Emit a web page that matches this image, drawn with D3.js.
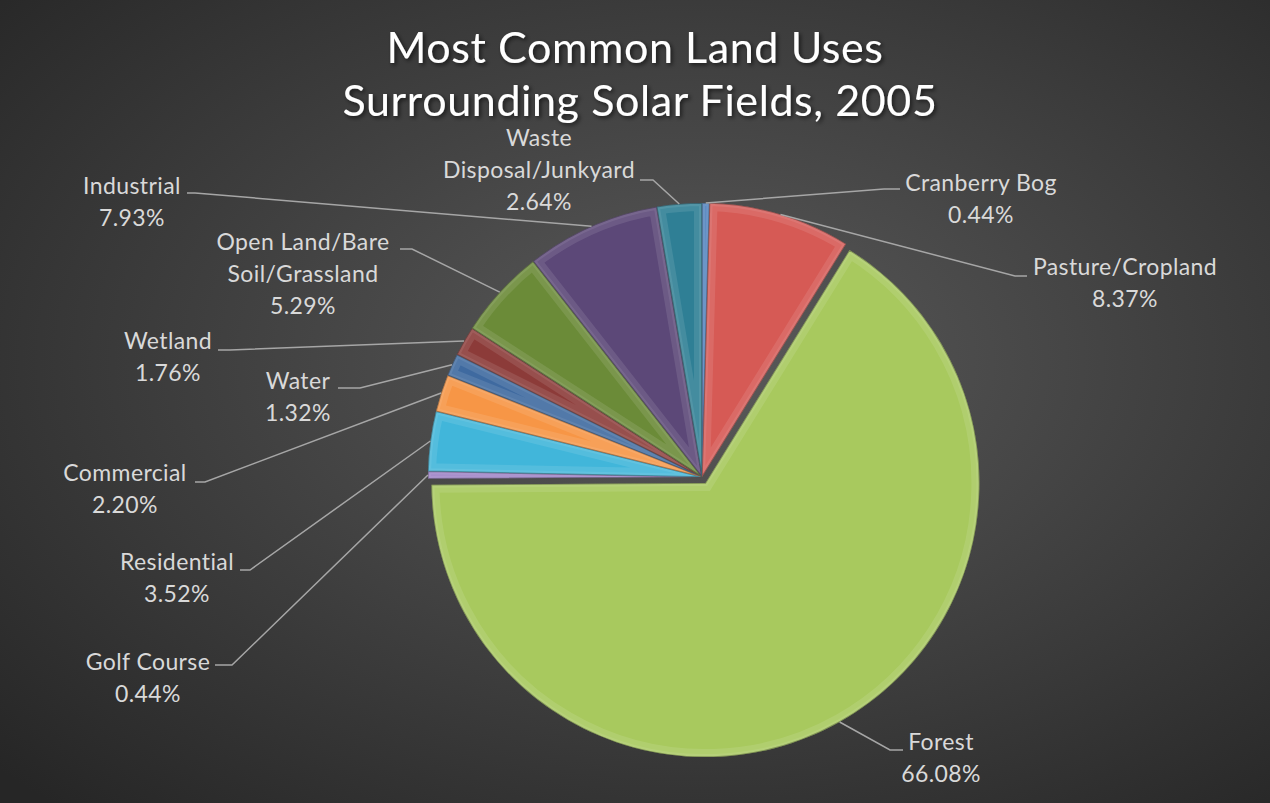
<!DOCTYPE html>
<html>
<head>
<meta charset="utf-8">
<script src="https://cdn.jsdelivr.net/npm/d3@7"></script>
<style>
  html, body { margin: 0; padding: 0; background: #2b2b2b; }
  svg { display: block; }
  .lbl { font-family: Lato, "Open Sans", sans-serif; font-size: 23px; letter-spacing: 0.4px; fill: #d9d9d9; }
  .title { font-family: Lato, "Open Sans", sans-serif; font-size: 43px; letter-spacing: 0.6px; fill: #ffffff; }
</style>
</head>
<body>
<svg id="chart"></svg>
<script>
// Data (clockwise from 12 o'clock)
const categories = ["Cranberry Bog", "Pasture/Cropland", "Forest", "Golf Course", "Residential",
    "Commercial", "Water", "Wetland", "Open Land/Bare Soil/Grassland", "Industrial", "Waste Disposal/Junkyard"];
const values = [0.44, 8.37, 66.08, 0.44, 3.52, 2.20, 1.32, 1.76, 5.29, 7.93, 2.64];
const labelLines = [["Cranberry Bog"], ["Pasture/Cropland"], ["Forest"], ["Golf Course"], ["Residential"],
    ["Commercial"], ["Water"], ["Wetland"], ["Open Land/Bare", "Soil/Grassland"], ["Industrial"], ["Waste", "Disposal/Junkyard"]];
const colors = ["#4f81bd", "#d65a55", "#a8c95e", "#9b7fc4", "#41b6da", "#f79646",
    "#3f6aa0", "#8c3b39", "#6b8b38", "#5c4878", "#2f7f95"];
const exploded = [0, 0, 7, 0, 0, 0, 0, 0, 0, 0, 0];

// label layout: text centre x, first baseline y, leader elbow x, elbow y, end x
const labelPos = [
    {x: 981, y: 191, ex: 884, ey: 189, tx: 900},
    {x: 1125, y: 275, ex: 1015, ey: 276, tx: 1027},
    {x: 941, y: 750, ex: 890, ey: 750, tx: 903},
    {x: 148, y: 670, ex: 232, ey: 665, tx: 215},
    {x: 177, y: 570, ex: 250, ey: 570, tx: 240},
    {x: 125, y: 481, ex: 205, ey: 482, tx: 195},
    {x: 298, y: 389, ex: 360, ey: 388, tx: 338},
    {x: 168, y: 349, ex: 230, ey: 350, tx: 218},
    {x: 303, y: 250, ex: 412, ey: 249, tx: 400},
    {x: 132, y: 194, ex: 195, ey: 193, tx: 187},
    {x: 539, y: 146, ex: 653, ey: 180, tx: 640}
];

const width = 1270, height = 803;
const cx = 702, cy = 477, radius = 274;
const lineH = 32;

const svg = d3.select("#chart").attr("width", width).attr("height", height);
const defs = svg.append("defs");

// background
const bg = defs.append("radialGradient").attr("id", "bg")
    .attr("cx", "55%").attr("cy", "45%").attr("r", "75%");
bg.append("stop").attr("offset", "0%").attr("stop-color", "#5a5a5a");
bg.append("stop").attr("offset", "100%").attr("stop-color", "#262626");
svg.append("rect").attr("width", width).attr("height", height).attr("fill", "url(#bg)");

// title shadow filter
const sh = defs.append("filter").attr("id", "shadow").attr("x", "-10%").attr("y", "-20%")
    .attr("width", "120%").attr("height", "140%");
sh.append("feDropShadow").attr("dx", 2).attr("dy", 2).attr("stdDeviation", 2)
    .attr("flood-color", "#000").attr("flood-opacity", 0.6);

const title = svg.append("text").attr("class", "title").attr("text-anchor", "middle")
    .attr("filter", "url(#shadow)");
title.append("tspan").attr("x", 635).attr("y", 63).text("Most Common Land Uses");
title.append("tspan").attr("x", 640).attr("y", 116).text("Surrounding Solar Fields, 2005");

const pie = d3.pie().sort(null).value(d => d)(values);
const arc = d3.arc().innerRadius(0).outerRadius(radius);
const edge = d3.arc().innerRadius(radius).outerRadius(radius);

pie.forEach((p, i) => {
    const mid = (p.startAngle + p.endAngle) / 2;
    const dx = exploded[i] * Math.sin(mid), dy = -exploded[i] * Math.cos(mid);
    const tr = `translate(${cx + dx},${cy + dy})`;
    const clipId = "clip" + i;
    defs.append("clipPath").attr("id", clipId).append("path").attr("d", arc(p)).attr("transform", tr);
    svg.append("path").attr("d", arc(p)).attr("transform", tr).attr("fill", colors[i]);
    // bevel rim: light inner band clipped to slice
    const rim = svg.append("g").attr("clip-path", `url(#${clipId})`);
    rim.append("path").attr("d", arc(p)).attr("transform", tr)
        .attr("fill", "none").attr("stroke", "#ffffff").attr("stroke-opacity", 0.1)
        .attr("stroke-width", 16);
    rim.append("path").attr("d", arc(p)).attr("transform", tr)
        .attr("fill", "none").attr("stroke", "#ffffff").attr("stroke-opacity", 0.08)
        .attr("stroke-width", 6);
    rim.append("path").attr("d", arc(p)).attr("transform", tr)
        .attr("fill", "none").attr("stroke", "#000").attr("stroke-opacity", 0.3)
        .attr("stroke-width", 1.5);
});

// leader lines and labels
const lab = svg.append("g");
pie.forEach((p, i) => {
    const mid = (p.startAngle + p.endAngle) / 2;
    const [sx, sy] = edge.centroid(p);
    const off = exploded[i];
    const start = [cx + sx + off * Math.sin(mid), cy + sy - off * Math.cos(mid)];
    const L = labelPos[i];
    lab.append("path")
        .attr("d", d3.line()([start, [L.ex, L.ey], [L.tx, L.ey]]))
        .attr("fill", "none").attr("stroke", "#a6a6a6").attr("stroke-width", 1.5);
    const t = lab.append("text").attr("class", "lbl").attr("text-anchor", "middle");
    const lines = labelLines[i].concat([values[i].toFixed(2) + "%"]);
    lines.forEach((s, k) => {
        t.append("tspan").attr("x", L.x).attr("y", L.y + k * lineH).text(s);
    });
});
</script>
</body>
</html>
